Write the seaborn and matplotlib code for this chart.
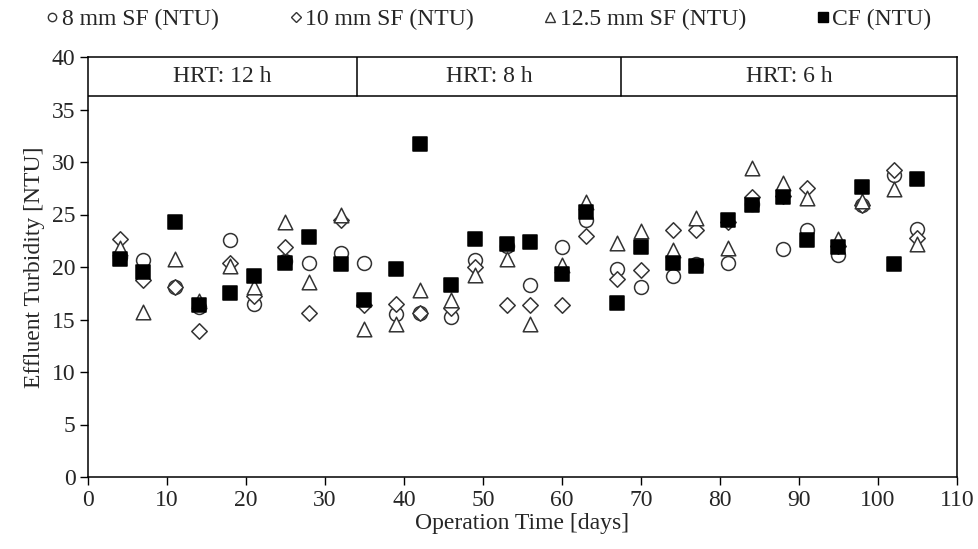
import matplotlib
matplotlib.use("Agg")
import matplotlib.pyplot as plt
import seaborn as sns
import pandas as pd
from matplotlib.lines import Line2D

days = [4, 7, 11, 14, 18, 21, 25, 28, 32, 35, 39, 42, 46, 49, 53, 56, 60, 63, 67, 70,
        74, 77, 81, 84, 88, 91, 95, 98, 102, 105]
sf8 = [21.0, 20.7, 18.1, 16.2, 22.6, 16.5, 20.6, 20.4, 21.3, 20.4, 15.5, 15.6, 15.2, 20.7, 22.0,
       18.3, 21.9, 24.5, 19.8, 18.1, 19.1, 20.3, 20.4, 26.0, 21.7, 23.5, 21.1, 25.9, 28.8, 23.6]
sf10 = [22.7, 18.8, 18.1, 13.9, 20.4, 17.2, 21.9, 15.6, 24.5, 16.4, 16.5, 15.6, 16.1, 20.0, 16.4,
        16.4, 16.4, 23.0, 18.9, 19.7, 23.5, 23.5, 24.3, 26.7, 26.8, 27.5, 22.0, 25.9, 29.2, 22.8]
sf125 = [21.8, 15.7, 20.8, 16.8, 20.1, 18.1, 24.3, 18.6, 25.0, 14.1, 14.6, 17.8, 16.9, 19.2, 20.8,
         14.6, 20.2, 26.2, 22.3, 23.4, 21.6, 24.7, 21.8, 29.4, 28.0, 26.6, 22.7, 26.3, 27.4, 22.2]
cf = [20.8, 19.5, 24.3, 16.4, 17.5, 19.1, 20.4, 22.9, 20.3, 16.9, 19.8, 31.7, 18.3, 22.7, 22.2,
      22.4, 19.3, 25.2, 16.6, 21.9, 20.4, 20.1, 24.5, 25.9, 26.7, 22.6, 21.9, 27.6, 20.3, 28.4]

series_names = ["8 mm SF (NTU)", "10 mm SF (NTU)", "12.5 mm SF (NTU)", "CF (NTU)"]
hrt_labels = ["HRT: 12 h", "HRT: 8 h", "HRT: 6 h"]
hrt_bounds = [0, 34, 67.5, 110]
x_ticks = list(range(0, 111, 10))
y_ticks = list(range(0, 41, 5))

FS = 17

sns.set_theme(style="white")
plt.rcParams["font.family"] = ["Liberation Serif", "DejaVu Serif"]

fig = plt.figure(figsize=(9.79, 5.49), dpi=100)
ax = fig.add_axes([88/979, 1-477/549, (957-88)/979, (477-57)/549])

styles = [
    dict(marker="o", facecolor="white", edgecolor="#333333"),
    dict(marker="D", facecolor="white", edgecolor="#333333"),
    dict(marker="^", facecolor="white", edgecolor="#333333"),
    dict(marker="s", facecolor="black", edgecolor="black"),
]
sizes = [100, 62, 110, 100]
datas = [sf8, sf10, sf125, cf]
for name, vals, st, sz in zip(series_names, datas, styles, sizes):
    df = pd.DataFrame({"day": days, "val": vals})
    sns.scatterplot(data=df, x="day", y="val", ax=ax, marker=st["marker"], s=sz,
                    facecolor=st["facecolor"], edgecolor=st["edgecolor"], linewidth=1.1,
                    zorder=3, legend=False)

ax.set_xlim(0, 110)
ax.set_ylim(0, 40)
ax.set_xticks(x_ticks)
ax.set_yticks(y_ticks)
ax.tick_params(axis="both", direction="out", length=6, width=1, color="black",
               labelsize=FS, left=True, bottom=True, pad=3)
for sp in ax.spines.values():
    sp.set_color("black")
    sp.set_linewidth(1.1)
ax.set_xlabel("Operation Time [days]", fontsize=FS, labelpad=2)
ax.set_ylabel("Effluent Turbidity [NTU]", fontsize=FS, labelpad=5)

# HRT band
band_lo = 36.3
ax.axhline(band_lo, color="black", lw=1.1, zorder=4)
for b in hrt_bounds[1:-1]:
    ax.plot([b, b], [band_lo, 40], color="black", lw=1.1, zorder=4)
for i, lab in enumerate(hrt_labels):
    ax.text((hrt_bounds[i] + hrt_bounds[i+1]) / 2, (band_lo + 40) / 2, lab,
            ha="center", va="center", fontsize=FS)

handles = [
    Line2D([], [], ls="none", marker="o", mfc="white", mec="#333333", ms=6, mew=1),
    Line2D([], [], ls="none", marker="D", mfc="white", mec="#333333", ms=5, mew=1),
    Line2D([], [], ls="none", marker="^", mfc="white", mec="#333333", ms=7, mew=1),
    Line2D([], [], ls="none", marker="s", mfc="black", mec="black", ms=7, mew=1),
]
fig.legend(handles, series_names, loc="center", bbox_to_anchor=(0.4995, 1-19/549), ncol=4,
           frameon=False, fontsize=FS, handletextpad=0.15, columnspacing=3.0,
           handlelength=0.5, borderaxespad=0)

fig.savefig("out.png", dpi=100)
